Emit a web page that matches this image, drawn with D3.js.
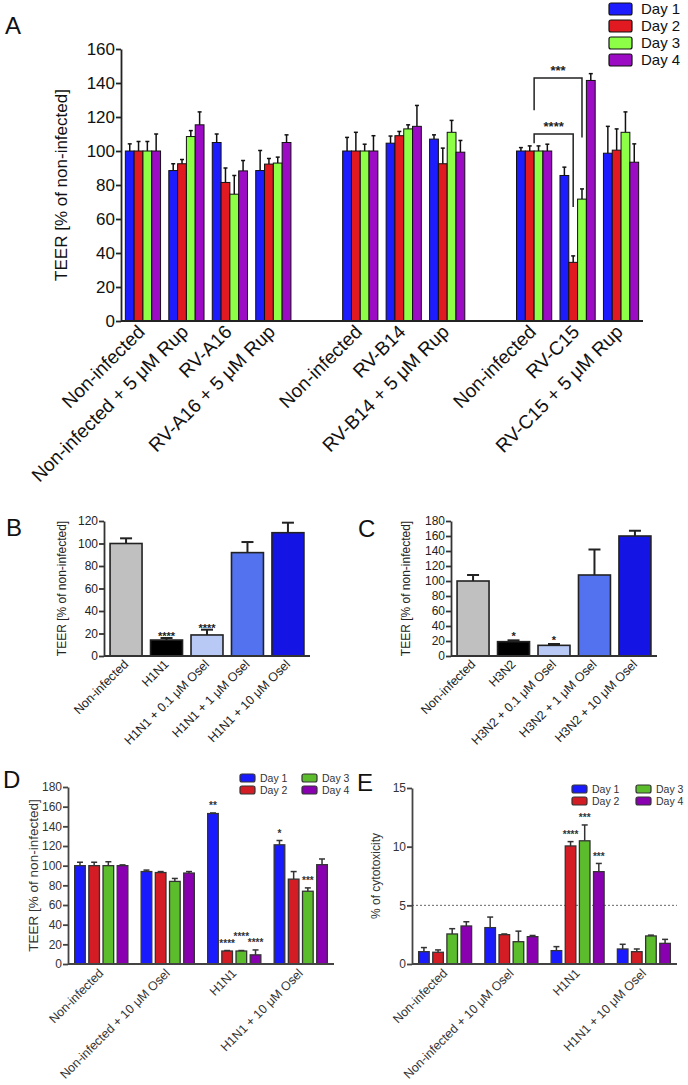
<!DOCTYPE html>
<html>
<head>
<meta charset="utf-8">
<script src="https://d3js.org/d3.v7.min.js"></script>
<style>
  body { margin: 0; background: #fff; }
  svg, svg text { font-family: Arial, "Liberation Sans", sans-serif; }
</style>
</head>
<body>
<script>
// ---------- data ----------
var days = ["Day 1", "Day 2", "Day 3", "Day 4"];

// panel A : TEER, rhinovirus (empty label = gap between blocks)
var aLabels = ["Non-infected", "Non-infected + 5 \u03bcM Rup", "RV-A16", "RV-A16 + 5 \u03bcM Rup", "",
  "Non-infected", "RV-B14", "RV-B14 + 5 \u03bcM Rup", "",
  "Non-infected", "RV-C15", "RV-C15 + 5 \u03bcM Rup"];
var aDay1 = [100, 88.5, 105, 88.5, null, 100, 104.6, 107, null, 100, 85.6, 98.7];
var aDay2 = [100, 92.5, 81.5, 92.3, null, 100, 109, 92.5, null, 100, 34.5, 100.5];
var aDay3 = [100, 108.5, 74.6, 92.9, null, 100, 113, 111, null, 100, 71.7, 111];
var aDay4 = [100, 115.4, 88.3, 105, null, 100, 114.5, 99.3, null, 100, 141.5, 93.4];
var aErr1 = [4.2, 4, 5, 11.8, null, 8, 4.2, 2.5, null, 2, 4.9, 15.8];
var aErr2 = [5.6, 2.5, 8.5, 3.3, null, 11, 2.5, 9.2, null, 3, 3.8, 12.5];
var aErr3 = [5.6, 3.5, 11, 3.5, null, 4, 2.4, 7, null, 3, 6, 12];
var aErr4 = [10, 7.6, 6.1, 4.5, null, 9, 12.3, 6.9, null, 4, 4, 10.8];
var aTicks = [0, 20, 40, 60, 80, 100, 120, 140, 160];
// brackets: from group (whole group) to a single bar of another group
var aBrackets = [
  {from: 9, to: 10, toDay: 1, top: 110, left: 104.5, right: 67, label: "****"},
  {from: 9, fromDay: 1.5, to: 10, toDay: 2, top: 143, left: 124, right: 108, label: "***"}
];

// panel B : H1N1 + oseltamivir
var bLabels = ["Non-infected", "H1N1", "H1N1 + 0.1 \u03bcM Osel", "H1N1 + 1 \u03bcM Osel", "H1N1 + 10 \u03bcM Osel"];
var bValues = [100, 14.2, 18.7, 91.9, 109.6];
var bErrors = [4.6, 1.8, 4.7, 9.4, 8.9];
var bStars = ["", "****", "****", "", ""];
var bTicks = [0, 20, 40, 60, 80, 100, 120];

// panel C : H3N2 + oseltamivir
var cLabels = ["Non-infected", "H3N2", "H3N2 + 0.1 \u03bcM Osel", "H3N2 + 1 \u03bcM Osel", "H3N2 + 10 \u03bcM Osel"];
var cValues = [100, 19.1, 14.2, 108, 160];
var cErrors = [8, 1.8, 1.8, 34, 7];
var cStars = ["", "*", "*", "", ""];
var cTicks = [0, 20, 40, 60, 80, 100, 120, 140, 160, 180];

// panel D : TEER over 4 days
var deLabels = ["Non-infected", "Non-infected + 10 \u03bcM Osel", "H1N1", "H1N1 + 10 \u03bcM Osel"];
var dDay1 = [100, 94, 153, 121.2];
var dDay2 = [100, 93, 13.2, 86.3];
var dDay3 = [100, 84, 13.2, 74];
var dDay4 = [100, 92.5, 9.3, 101];
var dErr1 = [3.5, 1.5, 0.6, 4.4];
var dErr2 = [3.5, 1, 0.5, 7.7];
var dErr3 = [4, 3, 0.5, 3.4];
var dErr4 = [0.8, 1.5, 5, 5.8];
var dStars = [["", "", "**", "*"], ["", "", "****", ""], ["", "", "****", "***"], ["", "", "****", ""]];
var dTicks = [0, 20, 40, 60, 80, 100, 120, 140, 160, 180];

// panel E : cytotoxicity
var eDay1 = [1.05, 3.1, 1.14, 1.28];
var eDay2 = [1.0, 2.5, 10.06, 1.05];
var eDay3 = [2.56, 1.9, 10.5, 2.39];
var eDay4 = [3.24, 2.33, 7.87, 1.76];
var eErr1 = [0.35, 0.9, 0.34, 0.4];
var eErr2 = [0.2, 0.06, 0.37, 0.23];
var eErr3 = [0.45, 0.9, 1.35, 0.07];
var eErr4 = [0.36, 0.1, 0.7, 0.34];
var eStars = [["", "", "", ""], ["", "", "****", ""], ["", "", "***", ""], ["", "", "***", ""]];
var eTicks = [0, 5, 10, 15];
var eThreshold = 5;

var aColors = ["#1c1cff", "#e01a20", "#8cff46", "#9c0cc4"];
var deColors = ["#1a1aff", "#d41c24", "#5cbd2c", "#8800b0"];
var bcColors = ["#c0c0c0", "#000000", "#b8c9f5", "#5272f0", "#1414e4"];

var FONT = "Arial, 'Liberation Sans', sans-serif";

var svg = d3.select("body").append("svg")
    .attr("width", 688)
    .attr("height", 1085)
    .attr("font-family", FONT);

function yAxis(g, y, o) {
  var ax = g.append("g")
      .attr("transform", "translate(" + o.left + ",0)")
      .call(d3.axisLeft(y).tickValues(o.ticks).tickSize(5).tickSizeOuter(0).tickPadding(1));
  ax.attr("font-family", FONT);
  ax.selectAll("path, line").attr("stroke", o.axisColor).attr("stroke-width", o.axisW);
  ax.selectAll("text").attr("font-size", o.tickFs).attr("fill", o.textColor);
  // x baseline
  g.append("line")
      .attr("x1", o.left).attr("x2", o.right)
      .attr("y1", y(0)).attr("y2", y(0))
      .attr("stroke", o.axisColor).attr("stroke-width", o.axisW);
  g.append("text")
      .attr("transform", "translate(" + o.ylabX + "," + (o.top + o.bottom) / 2 + ") rotate(-90)")
      .attr("text-anchor", "middle")
      .attr("dy", "0.35em")
      .attr("font-size", o.ylabFs)
      .attr("fill", o.textColor)
      .text(o.ylab);
}

function xLabels(g, labels, xc, yb, o) {
  labels.forEach(function(l, i) {
    if (!l) return;
    var px = xc(i) + o.labDx, py = yb + o.labDy;
    g.append("text")
        .attr("transform", "translate(" + px + "," + py + ") rotate(-45)")
        .attr("text-anchor", "end")
        .attr("font-size", o.labFs)
        .attr("fill", o.textColor)
        .text(l);
  });
}

function errorBar(g, cx, y0, y1, cap, w, col) {
  g.append("line").attr("x1", cx).attr("x2", cx).attr("y1", y0).attr("y2", y1)
      .attr("stroke", col).attr("stroke-width", w);
  g.append("line").attr("x1", cx - cap / 2).attr("x2", cx + cap / 2).attr("y1", y1).attr("y2", y1)
      .attr("stroke", col).attr("stroke-width", w);
}

function grouped(o) {
  var g = svg.append("g");
  var x0 = d3.scaleBand().domain(d3.range(o.labels.length)).range([o.left, o.right])
      .paddingInner(o.pin).paddingOuter(o.pout);
  var x1 = d3.scaleBand().domain(d3.range(o.series.length)).range([0, x0.bandwidth()])
      .paddingInner(o.pbar);
  var y = d3.scaleLinear().domain([0, o.max]).range([o.bottom, o.top]);

  if (o.threshold != null) {
    g.append("line")
        .attr("x1", o.left).attr("x2", o.right)
        .attr("y1", y(o.threshold)).attr("y2", y(o.threshold))
        .attr("stroke", "#666").attr("stroke-width", 1).attr("stroke-dasharray", "2,2");
  }

  o.labels.forEach(function(l, i) {
    if (!l) return;
    var prev = null;
    o.series.forEach(function(s, j) {
      var v = s[i], e = o.errors[j][i];
      var bx = x0(i) + x1(j), bw = x1.bandwidth(), cx = bx + bw / 2;
      errorBar(g, cx, y(v), y(v + e), o.cap, o.errW, o.errColor);
      g.append("rect")
          .attr("x", bx).attr("y", y(v))
          .attr("width", bw).attr("height", y(0) - y(v))
          .attr("fill", o.colors[j])
          .attr("stroke", o.barStroke).attr("stroke-width", o.barStrokeW);
      if (o.stars && o.stars[j][i]) {
        var sy = y(v + e) - o.starGap;
        var sw = o.stars[j][i].length * o.starFs * 0.45;
        if (prev && Math.abs(prev.y - sy) < 6 && Math.abs(prev.x - cx) < (prev.w + sw) / 2) sy = prev.y - 7;
        g.append("text")
            .attr("x", cx).attr("y", sy + o.starFs * 0.55)
            .attr("text-anchor", "middle")
            .attr("font-size", o.starFs).attr("font-weight", "bold")
            .attr("fill", o.textColor)
            .text(o.stars[j][i]);
        prev = {x: cx, y: sy, w: sw};
      }
    });
  });

  yAxis(g, y, o);
  xLabels(g, o.labels, function(i) { return x0(i) + x0.bandwidth() / 2; }, y(0), o);

  // legend
  days.forEach(function(d, j) {
    var lx = o.legend.x + (j >> o.legend.shift) * o.legend.colW;
    var ly = o.legend.y + (o.legend.shift ? (j % 2) : j) * o.legend.rowH;
    g.append("rect")
        .attr("x", lx).attr("y", ly)
        .attr("width", o.legend.bw).attr("height", o.legend.bh)
        .attr("rx", 2)
        .attr("fill", o.colors[j])
        .attr("stroke", o.barStroke).attr("stroke-width", 1.2);
    g.append("text")
        .attr("x", lx + o.legend.bw + o.legend.gap).attr("y", ly + o.legend.bh / 2)
        .attr("dy", "0.36em")
        .attr("font-size", o.legend.fs)
        .attr("fill", o.textColor)
        .text(d);
  });

  return {g: g, x0: x0, x1: x1, y: y};
}

function simple(o) {
  var g = svg.append("g");
  var x = d3.scaleBand().domain(d3.range(o.labels.length)).range([o.left, o.right])
      .paddingInner(o.pin).paddingOuter(o.pout);
  var y = d3.scaleLinear().domain([0, o.max]).range([o.bottom, o.top]);

  o.values.forEach(function(v, i) {
    var cx = x(i) + x.bandwidth() / 2;
    errorBar(g, cx, y(v), y(v + o.errors[i]), o.cap, o.errW, "#222");
    g.append("rect")
        .attr("x", x(i)).attr("y", y(v))
        .attr("width", x.bandwidth()).attr("height", y(0) - y(v))
        .attr("fill", o.colors[i])
        .attr("stroke", "#222").attr("stroke-width", 1.6);
    if (o.stars[i]) {
      g.append("text")
          .attr("x", cx).attr("y", y(v + o.errors[i]) - o.starGap + 6)
          .attr("text-anchor", "middle")
          .attr("font-size", 11).attr("font-weight", "bold")
          .attr("fill", "#222")
          .text(o.stars[i]);
    }
  });

  yAxis(g, y, o);
  xLabels(g, o.labels, function(i) { return x(i) + x.bandwidth() / 2; }, y(0), o);
  return g;
}

function letter(t, x, y) {
  svg.append("text").attr("x", x).attr("y", y)
      .attr("font-size", 24)
      .attr("font-family", "'Open Sans', 'Liberation Sans', sans-serif")
      .attr("fill", "#111")
      .text(t);
}

// ---------- panel A ----------
var pa = grouped({
  labels: aLabels, series: [aDay1, aDay2, aDay3, aDay4], errors: [aErr1, aErr2, aErr3, aErr4],
  colors: aColors, left: 121, right: 643, top: 49, bottom: 321, max: 160, ticks: aTicks,
  pin: 0.19, pout: 0.1, pbar: 0,
  barStroke: "#111", barStrokeW: 1, cap: 4, errW: 1.5, errColor: "#111",
  axisColor: "#222", axisW: 1.8, textColor: "#111",
  tickFs: 17, ylab: "TEER [% of non-infected]", ylabX: 61, ylabFs: 17,
  labFs: 19, labDx: 3, labDy: 12,
  legend: {x: 609, y: 3, shift: 0, colW: 0, rowH: 17, bw: 23, bh: 12, gap: 9, fs: 15}
});

// significance brackets in A
aBrackets.forEach(function(b) {
  var xa = b.fromDay == null ? pa.x0(b.from) + pa.x0.bandwidth() / 2
                             : pa.x0(b.from) + pa.x1.bandwidth() * (b.fromDay + 0.5);
  var xb = pa.x0(b.to) + pa.x1(b.toDay) + pa.x1.bandwidth() / 2;
  pa.g.append("path")
      .attr("d", "M" + xa + "," + pa.y(b.left) + "V" + pa.y(b.top) + "H" + xb + "V" + pa.y(b.right))
      .attr("fill", "none").attr("stroke", "#222").attr("stroke-width", 1.5);
  pa.g.append("text")
      .attr("x", (xa + xb) / 2).attr("y", pa.y(b.top) - 3)
      .attr("text-anchor", "middle")
      .attr("font-size", 13).attr("font-weight", "bold")
      .attr("fill", "#222")
      .text(b.label);
});
letter("A", 5, 34);

// ---------- panel B ----------
simple({
  labels: bLabels, values: bValues, errors: bErrors, stars: bStars, colors: bcColors,
  left: 104, right: 310, top: 521, bottom: 656, max: 120, ticks: bTicks,
  pin: 0.21, pout: 0.15, cap: 12, errW: 2, starGap: 4,
  axisColor: "#333", axisW: 1.8, textColor: "#222",
  tickFs: 12, ylab: "TEER [% of non-infected]", ylabX: 62, ylabFs: 12,
  labFs: 12.5, labDx: 3, labDy: 9
});
letter("B", 6, 536);

// ---------- panel C ----------
simple({
  labels: cLabels, values: cValues, errors: cErrors, stars: cStars, colors: bcColors,
  left: 451, right: 657, top: 521, bottom: 656, max: 180, ticks: cTicks,
  pin: 0.21, pout: 0.15, cap: 12, errW: 2, starGap: 6,
  axisColor: "#333", axisW: 1.8, textColor: "#222",
  tickFs: 12, ylab: "TEER [% of non-infected]", ylabX: 406, ylabFs: 12,
  labFs: 12.5, labDx: 3, labDy: 9
});
letter("C", 358, 537);

// ---------- panel D ----------
grouped({
  labels: deLabels, series: [dDay1, dDay2, dDay3, dDay4], errors: [dErr1, dErr2, dErr3, dErr4],
  stars: dStars, starFs: 10, starGap: 9,
  colors: deColors, left: 68, right: 334, top: 787, bottom: 964, max: 180, ticks: dTicks,
  pin: 0.2, pout: 0.1, pbar: 0.25,
  barStroke: "#333", barStrokeW: 1.3, cap: 6, errW: 1.5, errColor: "#333",
  axisColor: "#444", axisW: 1.8, textColor: "#333",
  tickFs: 12, ylab: "TEER [% of non-infected]", ylabX: 33, ylabFs: 13.5,
  labFs: 12.5, labDx: 3, labDy: 10,
  legend: {x: 240, y: 774, shift: 1, colW: 62, rowH: 12, bw: 15, bh: 8, gap: 5, fs: 10.5}
});
letter("D", 3, 788);

// ---------- panel E ----------
grouped({
  labels: deLabels, series: [eDay1, eDay2, eDay3, eDay4], errors: [eErr1, eErr2, eErr3, eErr4],
  stars: eStars, starFs: 10, starGap: 9, threshold: eThreshold,
  colors: deColors, left: 412, right: 677, top: 788, bottom: 964, max: 15, ticks: eTicks,
  pin: 0.2, pout: 0.1, pbar: 0.25,
  barStroke: "#333", barStrokeW: 1.3, cap: 6, errW: 1.5, errColor: "#333",
  axisColor: "#444", axisW: 1.8, textColor: "#333",
  tickFs: 12, ylab: "% of cytotoxicity", ylabX: 376, ylabFs: 12,
  labFs: 12.5, labDx: 3, labDy: 10,
  legend: {x: 572, y: 785, shift: 1, colW: 64, rowH: 12, bw: 15, bh: 8, gap: 5, fs: 10.5}
});
letter("E", 357, 791);
</script>
</body>
</html>
